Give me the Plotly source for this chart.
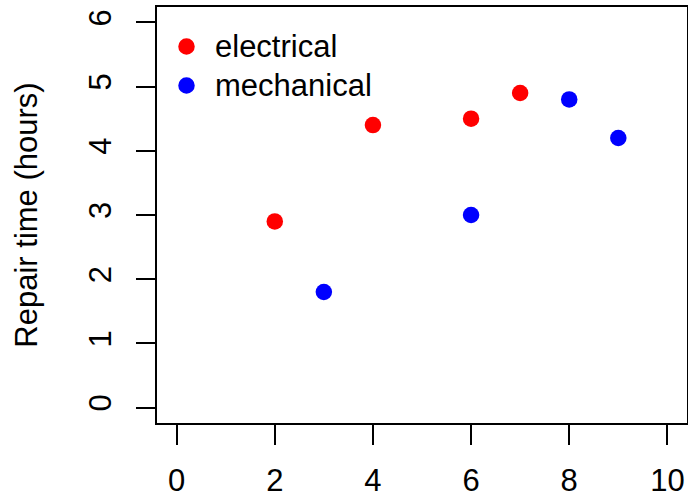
import plotly.graph_objects as go

elec_x = [2, 4, 6, 7]
elec_y = [2.9, 4.4, 4.5, 4.9]
mech_x = [3, 6, 8, 9]
mech_y = [1.8, 3.0, 4.8, 4.2]
x_ticks = [0, 2, 4, 6, 8, 10]
y_ticks = [0, 1, 2, 3, 4, 5, 6]
legend_names = ["electrical", "mechanical"]
legend_colors = ["#FF0000", "#0000FF"]

FONT = "Liberation Sans, Arial, Helvetica, sans-serif"
fs = 31
W, H = 688, 497
ML, MR, MT, MB = 157, 1, 7, 74
PW, PH = W - ML - MR, H - MT - MB

fig = go.Figure()
fig.add_trace(go.Scatter(x=elec_x, y=elec_y, mode="markers", name=legend_names[0],
                         marker=dict(color=legend_colors[0], size=16.5, line=dict(width=0))))
fig.add_trace(go.Scatter(x=mech_x, y=mech_y, mode="markers", name=legend_names[1],
                         marker=dict(color=legend_colors[1], size=16.5, line=dict(width=0))))

# manual legend (R style)
leg_x_px = 186.5
txt_x_px = 216
leg_y_px = [46.5, 85.5]
for name, col, ypx in zip(legend_names, legend_colors, leg_y_px):
    xp = (leg_x_px - ML) / PW
    yp = 1 - (ypx - MT) / PH
    fig.add_shape(type="circle", xref="paper", yref="paper",
                  xsizemode="pixel", ysizemode="pixel",
                  xanchor=xp, yanchor=yp, x0=-8.25, x1=8.25, y0=-8.25, y1=8.25,
                  fillcolor=col, line=dict(width=0))
    fig.add_annotation(x=(txt_x_px - ML) / PW, y=yp, xref="paper", yref="paper",
                       text=name, showarrow=False, xanchor="left", yanchor="middle",
                       font=dict(size=fs, color="black"), xshift=-2, borderpad=0)

fig.update_layout(
    width=W, height=H,
    margin=dict(l=ML, r=MR, t=MT, b=MB, pad=0, autoexpand=False),
    paper_bgcolor="white", plot_bgcolor="white",
    font=dict(family=FONT, size=fs, color="black"),
    showlegend=False,
    xaxis=dict(range=[-0.4, 10.4], tickvals=x_ticks, ticktext=[str(v) for v in x_ticks],
               showgrid=False, zeroline=False, showline=True, linecolor="black", linewidth=1.5,
               mirror=True, ticks="outside", ticklen=20, tickwidth=1.5, tickcolor="black",
               ticklabelstandoff=9, tickfont=dict(size=fs), automargin=False),
    yaxis=dict(range=[-0.24, 6.24], tickvals=y_ticks, ticktext=[str(v) for v in y_ticks],
               showgrid=False, zeroline=False, showline=True, linecolor="black", linewidth=1.5,
               mirror=True, ticks="outside", ticklen=19, tickwidth=1.5, tickcolor="black",
               tickangle=-90, ticklabelstandoff=13, tickfont=dict(size=fs), automargin=False,
               title=dict(text="Repair time (hours)", font=dict(size=fs), standoff=36)),
)

fig.write_html("out.html", config={"displayModeBar": False},
               post_script="document.body.style.margin='0';document.body.style.overflow='hidden';")
